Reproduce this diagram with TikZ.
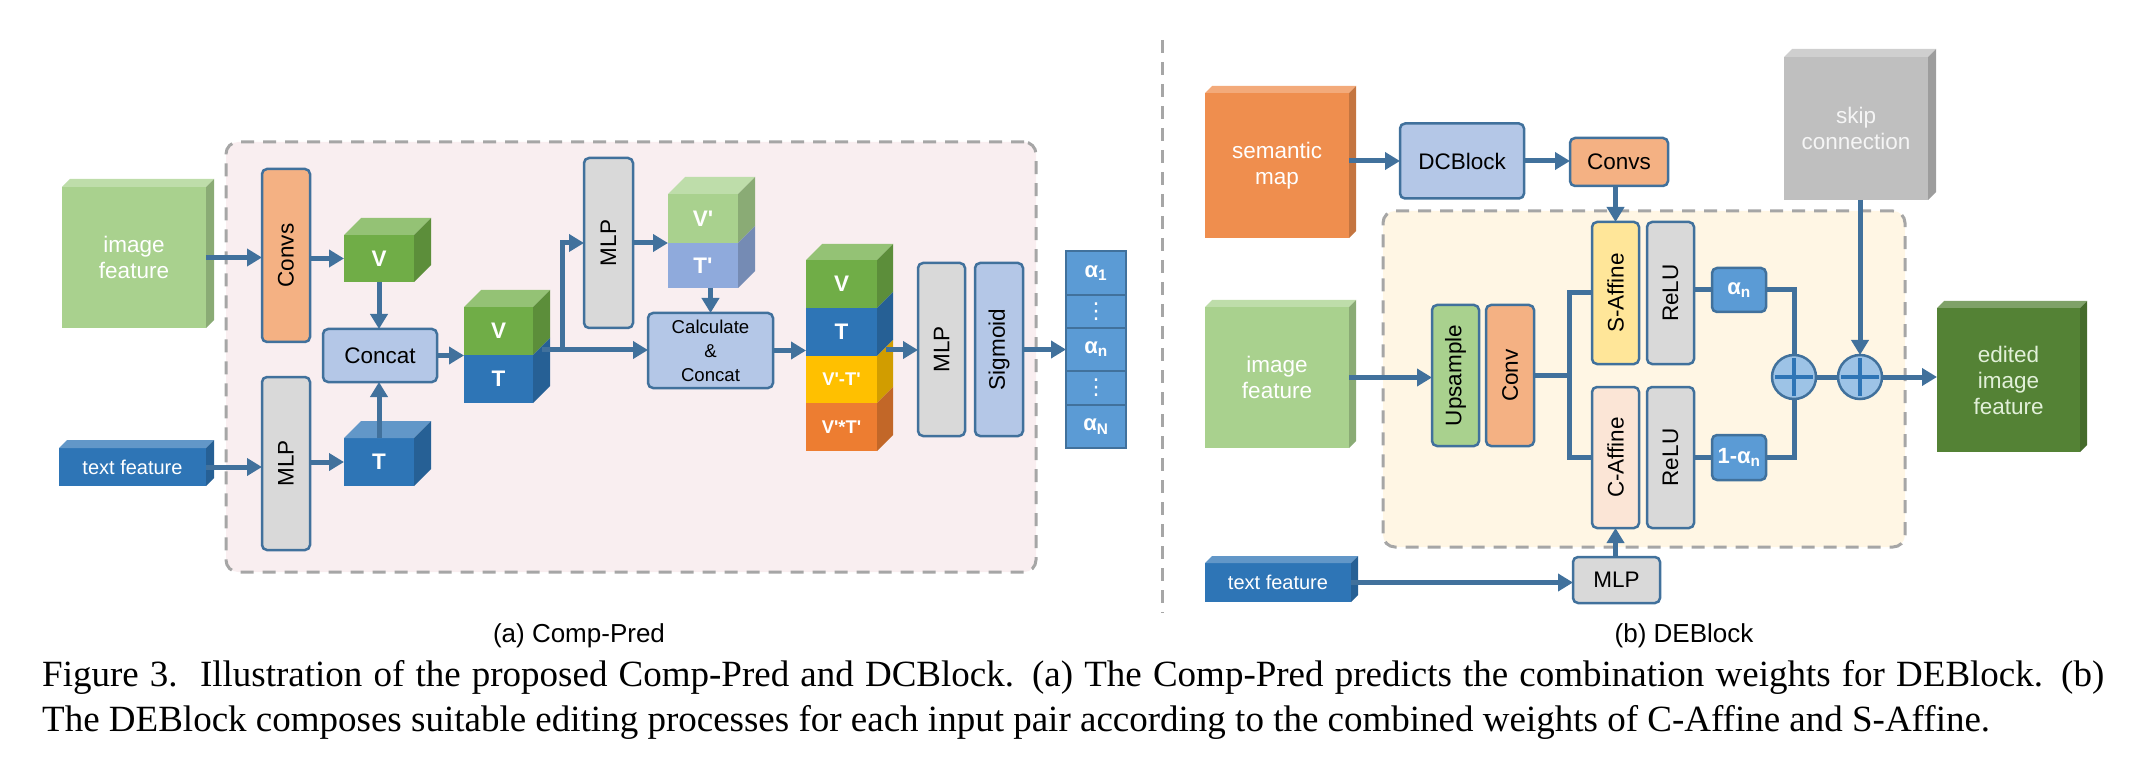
\documentclass[tikz,border=0pt]{standalone}
\usepackage{fontspec}
\setmainfont{Liberation Serif}
\newfontfamily\arialf{Liberation Sans}
\newfontfamily\djvf{DejaVu Sans}
\usetikzlibrary{arrows.meta,calc}
\definecolor{bord}{HTML}{41719C}
\definecolor{arrc}{HTML}{41719C}
\definecolor{gLight}{HTML}{A9D18E}
\definecolor{gMid}{HTML}{70AD47}
\definecolor{gDark}{HTML}{548235}
\definecolor{bMid}{HTML}{2E75B6}
\definecolor{bLight}{HTML}{8FAADC}
\definecolor{bBox}{HTML}{B4C7E7}
\definecolor{bAlpha}{HTML}{5B9BD5}
\definecolor{oLight}{HTML}{F4B183}
\definecolor{oMid}{HTML}{ED7D31}
\definecolor{oSem}{HTML}{EF8E4E}
\definecolor{yMid}{HTML}{FFC000}
\definecolor{yLight}{HTML}{FFE699}
\definecolor{peach}{HTML}{FBE5D6}
\definecolor{grayBox}{HTML}{D9D9D9}
\definecolor{graySkip}{HTML}{BFBFBF}
\definecolor{dashc}{HTML}{A6A6A6}
\definecolor{pinkbg}{HTML}{F9EEF0}
\definecolor{creambg}{HTML}{FFF6E4}
\definecolor{plusfill}{HTML}{9DC3E6}
\definecolor{plusln}{HTML}{2E75B6}
\definecolor{edtext}{HTML}{E2F0D9}
\newcommand{\dfont}{\arialf\fontsize{22.5}{26}\selectfont}
\newcommand{\topface}[3]{\fill[#3!75!white] (#1.north west) -- ++(#2,-#2) -- ($(#1.north east)+(#2,-#2)$) -- (#1.north east) -- cycle;}
\newcommand{\sideface}[3]{\fill[#3!82!black] (#1.north east) -- ++(#2,-#2) -- ($(#1.south east)+(#2,-#2)$) -- (#1.south east) -- cycle;}
\begin{document}
\begin{tikzpicture}[x=1pt,y=-1pt,
  box/.style={draw=bord, line width=2.5pt, rounded corners=5pt, inner sep=0pt, outer sep=0pt, font=\dfont, align=center},
  cube/.style={inner sep=0pt, outer sep=0pt, font=\dfont, text=white, align=center},
  seg/.style={inner sep=0pt, outer sep=0pt, font=\arialf\bfseries\fontsize{22.5}{26}\selectfont, text=white, minimum width=70, minimum height=48},
  abox/.style={draw=bord, line width=2pt, fill=bAlpha, inner sep=0pt, outer sep=0pt, minimum width=60, text=white, font=\arialf\bfseries\fontsize{22}{26}\selectfont},
  arr/.style={draw=arrc, line width=5pt, -{Triangle[length=15pt,width=17pt]}},
  ln/.style={draw=arrc, line width=5pt},
  vlab/.style={rotate=90, font=\dfont, inner sep=0pt},
  region/.style={draw=dashc, line width=3pt, dash pattern=on 13pt off 9pt, rounded corners=12pt, inner sep=0pt, outer sep=0pt},
  plusc/.style={circle, draw=bord, fill=plusfill, line width=2.5pt, minimum size=44pt, inner sep=0pt, outer sep=0pt},
  pl/.style={draw=plusln, line width=4pt},
]
\useasboundingbox (0,0) rectangle (2146,783);
% ---------------- panel (a) ----------------
\node[region, fill=pinkbg, minimum width=810, minimum height=430] (regA) at (631,357) {};
\coordinate (sepT) at (1162,40);
\coordinate (sepB) at (1162,613);
\draw[dashc, line width=3pt, dash pattern=on 13pt off 9pt] (sepT) -- (sepB);

\node[cube, fill=gLight, minimum width=144, minimum height=141] (imgA) at (134,257.5) {image\\feature};
\topface{imgA}{8}{gLight}\sideface{imgA}{8}{gLight}
\node[cube, fill=bMid, minimum width=147, minimum height=38, font=\arialf\fontsize{20}{24}\selectfont] (txtA) at (132.5,467) {text feature};
\topface{txtA}{8}{bMid}\sideface{txtA}{8}{bMid}

\node[box, fill=oLight, minimum width=48, minimum height=173] (convsA) at (286,255.5) {};
\node[vlab] (convsAl) at (convsA) {Convs};
\node[box, fill=grayBox, minimum width=48, minimum height=173] (mlpA) at (286,463.5) {};
\node[vlab] (mlpAl) at (mlpA) {MLP};

\node[seg, fill=gMid, minimum height=47] (Vc) at (379,258.5) {V};
\topface{Vc}{17}{gMid}\sideface{Vc}{17}{gMid}
\node[seg, fill=bMid] (Tc) at (379,462) {T};
\topface{Tc}{17}{bMid}\sideface{Tc}{17}{bMid}
\node[box, fill=bBox, minimum width=114, minimum height=53] (concat) at (380,355.5) {Concat};

\draw[arr] (imgA.east) -- (imgA.east -| convsA.west);
\draw[arr] (convsA.east |- Vc.west) -- (Vc.west);
\draw[arr] (Vc.south) -- (Vc.south |- concat.north);
\draw[arr] (Tc.north) -- (Tc.north |- concat.south);
\draw[arr] (txtA.east) -- (txtA.east -| mlpA.west);
\draw[arr] (mlpA.east |- Tc.west) -- (Tc.west);

% VT stack
\node[seg, fill=gMid, minimum width=69] (VTv) at (498.5,331) {V};
\node[seg, fill=bMid, minimum width=69] (VTt) at (498.5,379) {T};
\topface{VTv}{17}{gMid}\sideface{VTv}{17}{gMid}\sideface{VTt}{17}{bMid}
\draw[arr] (concat.east) -- (concat.east -| VTv.west);

\node[box, fill=grayBox, minimum width=49, minimum height=170] (mlpM) at (608.5,243) {};
\node[vlab] (mlpMl) at (mlpM) {MLP};
\node[box, fill=bBox, minimum width=125, minimum height=75, font=\arialf\fontsize{18.6}{24}\selectfont] (calc) at (710.5,350.5) {Calculate\\\&\\Concat};

\coordinate (vtout) at (542,350);
\coordinate (br) at (562,350);
\draw[arr] (vtout) -- (vtout -| calc.west);
\draw[arr] (br) |- (mlpM.west);

\node[seg, fill=gLight, minimum height=49] (Vp) at (703,218.5) {V'};
\node[seg, fill=bLight, minimum height=45] (Tp) at (703,265.5) {T'};
\topface{Vp}{17}{gLight}\sideface{Vp}{17}{gLight}\sideface{Tp}{17}{bLight}
\draw[arr] (mlpM.east) -- (Vp.south west);
\draw[arr] (calc.north |- Tp.south) -- (calc.north);

% big stack
\node[seg, fill=gMid, minimum width=71] (bV) at (841.5,284) {V};
\node[seg, fill=bMid, minimum width=71] (bT) at (841.5,332) {T};
\node[seg, fill=yMid, minimum width=71, minimum height=47, font=\arialf\bfseries\fontsize{18.4}{22}\selectfont] (bMT) at (841.5,379.5) {V'-T'};
\node[seg, fill=oMid, minimum width=71, font=\arialf\bfseries\fontsize{18.4}{22}\selectfont] (bXT) at (841.5,427) {V'*T'};
\topface{bV}{16}{gMid}\sideface{bV}{16}{gMid}\sideface{bT}{16}{bMid}\sideface{bMT}{16}{yMid}\sideface{bXT}{16}{oMid}
\draw[arr] (calc.east) -- (calc.east -| bV.west);

\node[box, fill=grayBox, minimum width=47, minimum height=173] (mlpR) at (941.5,349.5) {};
\node[vlab] (mlpRl) at (mlpR) {MLP};
\node[box, fill=bBox, minimum width=48, minimum height=173] (sig) at (999,349.5) {};
\node[vlab] (sigl) at (sig) {Sigmoid};
\coordinate (bout) at (886,350);
\draw[arr] (bout) -- (bout -| mlpR.west);

\node[abox, minimum height=44] (al1) at (1096,273) {α\textsubscript{1}};
\node[abox, minimum height=33] (al2) at (1096,311.5) {\djvf\mdseries ⋮};
\node[abox, minimum height=43] (al3) at (1096,349.5) {α\textsubscript{n}};
\node[abox, minimum height=34] (al4) at (1096,388) {\djvf\mdseries ⋮};
\node[abox, minimum height=43] (al5) at (1096,426.5) {α\textsubscript{N}};
\draw[arr] (sig.east) -- (sig.east -| al3.west);

% ---------------- panel (b) ----------------
\node[region, fill=creambg, minimum width=522, minimum height=336] (regB) at (1644,379) {};
\node[cube, fill=oSem, minimum width=144, minimum height=145] (sem) at (1277,165.5) {semantic\\map};
\topface{sem}{7}{oSem}\sideface{sem}{7}{oSem}
\node[box, fill=bBox, minimum width=124, minimum height=75] (dcb) at (1462,161) {DCBlock};
\node[box, fill=oLight, minimum width=98, minimum height=48] (convsB) at (1619,162) {Convs};
\draw[arr] (sem.east |- dcb.west) -- (dcb.west);
\draw[arr] (dcb.east) -- (dcb.east -| convsB.west);

\node[box, fill=yLight, minimum width=47, minimum height=142] (saff) at (1615.5,293) {};
\node[vlab] (saffl) at (saff) {S-Affine};
\node[box, fill=grayBox, minimum width=47, minimum height=142] (relu1) at (1670.5,293) {};
\node[vlab] (relu1l) at (relu1) {ReLU};
\node[box, fill=peach, minimum width=47, minimum height=141] (caff) at (1615.5,457.5) {};
\node[vlab] (caffl) at (caff) {C-Affine};
\node[box, fill=grayBox, minimum width=47, minimum height=141] (relu2) at (1670.5,457.5) {};
\node[vlab] (relu2l) at (relu2) {ReLU};
\draw[arr] (saff.north |- convsB.south) -- (saff.north);

\node[box, fill=gLight, minimum width=47, minimum height=141] (up) at (1455.5,375.5) {};
\node[vlab] (upl) at (up) {Upsample};
\node[box, fill=oLight, minimum width=48, minimum height=141] (conv) at (1510,375.5) {};
\node[vlab] (convl) at (conv) {Conv};
\node[cube, fill=gLight, minimum width=144, minimum height=141] (imgB) at (1277,377.5) {image\\feature};
\topface{imgB}{7}{gLight}\sideface{imgB}{7}{gLight}
\draw[arr] (imgB.east) -- (imgB.east -| up.west);
\coordinate (split) at (1569,375.5);
\draw[ln] (conv.east) -- (split);
\draw[ln] (saff.west) -| (split);
\draw[ln] (caff.west) -| (split);

\node[box, fill=grayBox, minimum width=87, minimum height=46] (mlpB) at (1616.5,580) {MLP};
\draw[arr] (caff.south |- mlpB.north) -- (caff.south);
\node[cube, fill=bMid, minimum width=146, minimum height=39, font=\arialf\fontsize{20}{24}\selectfont] (txtB) at (1278,582.5) {text feature};
\topface{txtB}{7}{bMid}\sideface{txtB}{7}{bMid}
\draw[arr] (txtB.east) -- (txtB.east -| mlpB.west);

\node[box, fill=bAlpha, text=white, minimum width=54, minimum height=44, font=\arialf\bfseries\fontsize{22}{26}\selectfont] (an) at (1739,290) {α\textsubscript{n}};
\node[box, fill=bAlpha, text=white, minimum width=54, minimum height=45, font=\arialf\bfseries\fontsize{22}{26}\selectfont] (oman) at (1739,457.5) {1-α\textsubscript{n}};
\draw[ln] (relu1.east |- an.west) -- (an.west);
\draw[ln] (relu2.east) -- (oman.west);

\node[plusc] (p1) at (1794,377) {};
\node[plusc] (p2) at (1860,377) {};
\draw[ln] (an.east) -| (p1.north);
\draw[ln] (oman.east) -| (p1.south);
\draw[ln] (p1.east) -- (p2.west);
\draw[pl] ($(p1.west)+(3,0)$) -- ($(p1.east)+(-3,0)$);
\draw[pl] ($(p1.north)+(0,3)$) -- ($(p1.south)+(0,-3)$);
\draw[pl] ($(p2.west)+(3,0)$) -- ($(p2.east)+(-3,0)$);
\draw[pl] ($(p2.north)+(0,3)$) -- ($(p2.south)+(0,-3)$);

\node[cube, fill=graySkip, text=white!92!gray, minimum width=144, minimum height=143] (skip) at (1856,128.5) {skip\\connection};
\topface{skip}{8}{graySkip}\sideface{skip}{8}{graySkip}
\draw[arr] (p2.north |- skip.south) -- (p2.north);

\node[cube, fill=gDark, text=edtext, minimum width=143, minimum height=144] (ed) at (2008.5,380) {edited\\image\\feature};
\topface{ed}{7}{gDark}\sideface{ed}{7}{gDark}
\draw[arr] (p2.east) -- (p2.east -| ed.west);

% ---------------- labels and caption ----------------
\node[font=\arialf\fontsize{26}{30}\selectfont, inner sep=0pt] (labA) at (579,636) {(a) Comp-Pred};
\node[font=\arialf\fontsize{26}{30}\selectfont, inner sep=0pt] (labB) at (1684,636) {(b) DEBlock};
\node[anchor=west, inner sep=0pt, font=\fontsize{37}{44}\selectfont] (cap1) at (42,677) {\makebox[2062pt][s]{Figure 3.\ \ Illustration of the proposed Comp-Pred and DCBlock. (a) The Comp-Pred predicts the combination weights for DEBlock. (b)}};
\node[anchor=west, inner sep=0pt, font=\fontsize{37}{44}\selectfont] (cap2) at (42,722) {The DEBlock composes suitable editing processes for each input pair according to the combined weights of C-Affine and S-Affine.};
\end{tikzpicture}
\end{document}
